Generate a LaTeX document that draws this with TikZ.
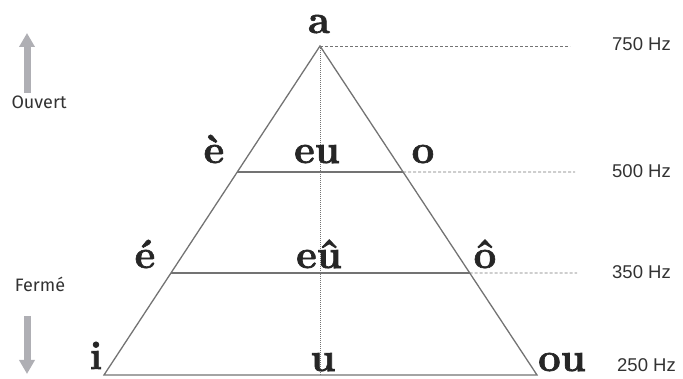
\documentclass[tikz,border=0pt]{standalone}
\usepackage{fontspec}
\setmainfont{Latin Modern Roman}
\newfontfamily\vowelfont[BoldFeatures={FakeBold=1.6}]{Latin Modern Roman}
\newfontfamily\hzfont{Liberation Sans}
\newfontfamily\sidefont{Fira Sans}
\usetikzlibrary{calc,arrows.meta}
\definecolor{linegray}{RGB}{115,115,115}
\definecolor{arrowgray}{RGB}{175,175,180}
\definecolor{txtgray}{RGB}{50,50,50}
\begin{document}
\begin{tikzpicture}[x=1pt,y=-1pt,
  vowel/.style={anchor=base,inner sep=0pt,font=\vowelfont\fontsize{40}{40}\selectfont\bfseries,text=black!85},
  hzlabel/.style={anchor=base west,inner sep=0pt,font=\hzfont\fontsize{18.5}{18.5}\selectfont,text=txtgray},
  sidelabel/.style={anchor=center,inner sep=0pt,font=\sidefont\fontsize{18}{18}\selectfont,text=txtgray},
  edge/.style={draw=linegray,line width=1.3pt},
  guide/.style={draw=linegray,line width=0.7pt,dash pattern=on 3pt off 2pt},
  axis/.style={draw=linegray,line width=0.6pt,dash pattern=on 1pt off 1pt},
  bigarrow/.style={draw=arrowgray,line width=7pt,-{Triangle[width=15pt,length=14pt]}}]
\useasboundingbox (0,0) rectangle (683,379);
% vertices
\coordinate (A) at (320,46);
\coordinate (L) at (104,375);
\coordinate (R) at (537,375);
\coordinate (B) at (320,375);
\coordinate (L1) at ($(A)!0.383!(L)$);
\coordinate (R1) at ($(A)!0.383!(R)$);
\coordinate (L2) at ($(A)!0.690!(L)$);
\coordinate (R2) at ($(A)!0.690!(R)$);
\coordinate (D0) at (570,46);
\coordinate (D1) at (575,172);
\coordinate (D2) at (577,273);
% guides
\path[axis] (A) -- (B);
\path[guide] (A) -- (D0);
\path[guide] (R1) -- (D1);
\path[guide] (R2) -- (D2);
% triangle
\path[edge] (L) -- (A) -- (R) -- cycle;
\path[edge] (L1) -- (R1);
\path[edge] (L2) -- (R2);
% vowels
\node[vowel] (va) at (319,33) {a};
\node[vowel] (ve1) at (214,163) {è};
\node[vowel] (veu) at (317,163) {eu};
\node[vowel] (vo) at (423,163) {o};
\node[vowel] (ve2) at (145,268) {é};
\node[vowel] (veuc) at (319,268) {eû};
\node[vowel] (voc) at (485,268) {ô};
\node[vowel] (vi) at (96,369) {i};
\node[vowel] (vu) at (323,371) {u};
\node[vowel] (vou) at (562,371) {ou};
% Hz
\node[hzlabel] (h750) at (612,51) {750 Hz};
\node[hzlabel] (h500) at (612,178) {500 Hz};
\node[hzlabel] (h350) at (612,279) {350 Hz};
\node[hzlabel] (h250) at (617,371) {250 Hz};
% side
\node[sidelabel] (ouv) at (39,102) {Ouvert};
\node[sidelabel] (fer) at (40,284) {Fermé};
\coordinate (u0) at (27,93);
\coordinate (u1) at (27,33);
\coordinate (d0) at (27,316);
\coordinate (d1) at (27,374);
\path[bigarrow] (u0) -- (u1);
\path[bigarrow] (d0) -- (d1);
\end{tikzpicture}
\end{document}
